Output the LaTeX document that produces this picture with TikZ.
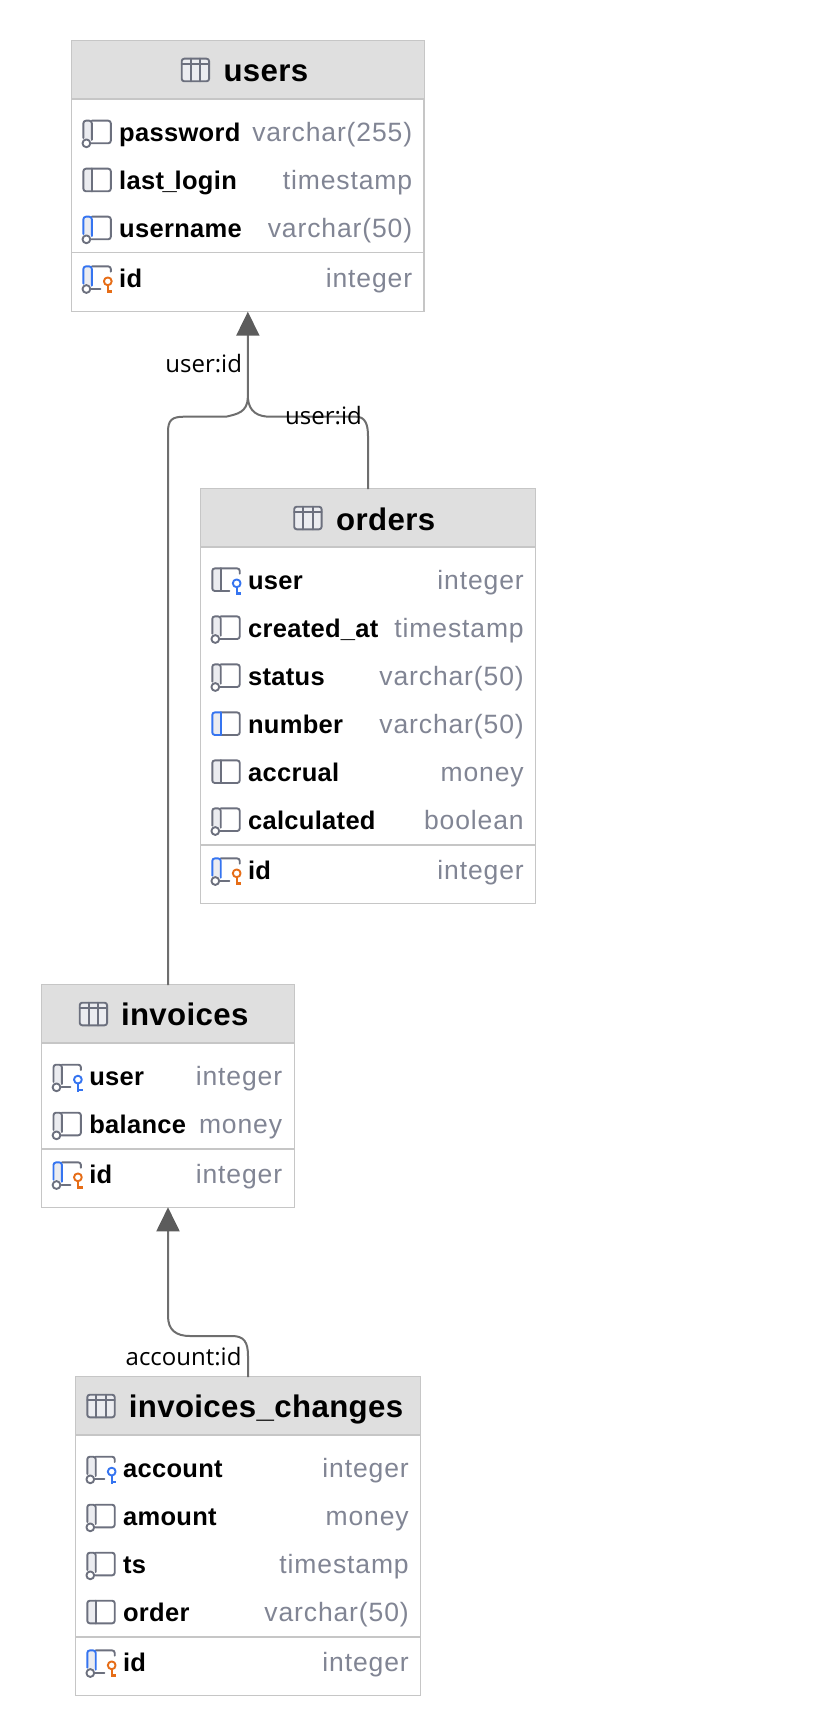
\documentclass[tikz,border=0pt]{standalone}
\usepackage{fontspec}
\usetikzlibrary{arrows.meta}
\setmainfont{Liberation Sans}
\newfontfamily\titlefont[LetterSpace=1.2]{Liberation Sans}
\newfontfamily\typefont[LetterSpace=3.3]{Liberation Sans}
\newfontfamily\linkfont{Open Sans}
\definecolor{headgray}{HTML}{DFDFDF}
\definecolor{rulegray}{HTML}{C6C6C6}
\definecolor{typegray}{HTML}{818594}
\definecolor{icongray}{HTML}{6C707E}
\definecolor{iconfill}{HTML}{EBECF0}
\definecolor{iconblue}{HTML}{3574F0}
\definecolor{iconorange}{HTML}{E66D17}
\definecolor{linkgray}{HTML}{6E6E6E}
\definecolor{tipgray}{HTML}{5C5C5C}
\tikzset{
  tablebox/.style={draw=rulegray, line width=1.2pt, fill=white, anchor=north west, inner sep=0pt, outer sep=0pt},
  headbox/.style={fill=headgray, anchor=north west, inner sep=0pt, outer sep=0pt},
  tablerule/.style={draw=rulegray, line width=1.6pt},
  tabletitle/.style={anchor=base west, inner sep=0pt, font=\titlefont\fontsize{31.2}{31}\selectfont\bfseries},
  colname/.style={anchor=base west, inner sep=0pt, font=\titlefont\fontsize{25.5}{26}\selectfont\bfseries},
  coltype/.style={anchor=base east, inner sep=0pt, text=typegray, font=\typefont\fontsize{26.5}{26}\selectfont},
  fklabel/.style={inner sep=0pt, font=\linkfont\fontsize{24}{24}\selectfont},
  fkedge/.style={draw=linkgray, line width=2pt},
  fktip/.style={-{Triangle[length=24pt,width=23pt,fill=tipgray,color=tipgray]}},
  iconline/.style={line width=1.9pt, line cap=round, line join=round}
}
% #1 stripe colour, #2 circle 0/1, #3 key 0/1/2
\newcommand{\colicon}[3]{
\ifnum#2=1 \fill[iconfill] (0,-11.3) rectangle (8.4,7); \else \fill[iconfill] (0,-11.3) rectangle (8.4,11.3); \fi
\ifnum#3=0
  \ifnum#2=1 \draw[iconline, icongray, rounded corners=2.5pt] (8.4,-11.3) -- (27.4,-11.3) -- (27.4,11.3) -- (8,11.3);
  \else \draw[iconline, icongray, rounded corners=2.5pt] (8.4,-11.3) -- (27.4,-11.3) -- (27.4,11.3) -- (8.4,11.3); \fi
\else
  \draw[iconline, icongray, rounded corners=2.5pt] (8.4,-11.3) -- (27.4,-11.3) -- (27.4,-6);
  \ifnum#2=1 \draw[iconline, icongray] (8,11.3) -- (17,11.3);
  \else \draw[iconline, icongray] (8.4,11.3) -- (17,11.3); \fi
\fi
\ifnum#2=1
  \draw[iconline, #1, rounded corners=2.5pt] (0,6) -- (0,-11.3) -- (8.4,-11.3) -- (8.4,8);
  \draw[iconline, icongray] (3,11.3) circle (3.9pt);
\else
  \draw[iconline, #1, rounded corners=2.5pt] (8.4,-11.3) -- (0,-11.3) -- (0,11.3) -- (8.4,11.3);
  \draw[iconline, #1] (8.4,-11.3) -- (8.4,11.3);
\fi
\ifnum#3=1 \colkey{iconblue} \fi
\ifnum#3=2 \colkey{iconorange} \fi
}
\newcommand{\colkey}[1]{
\draw[iconline, #1] (24.4,3.6) circle (3.9pt);
\draw[iconline, #1, line cap=butt] (24.4,7.4) -- (24.4,15.6);
\draw[#1, line width=2.8pt] (24.4,14) -- (29,14);
}
\newcommand{\tableicon}[2]{
\begin{scope}[shift={(#1,#2)}]
\draw[iconline, icongray, fill=iconfill, rounded corners=2.5pt] (0,-11.3) rectangle (27.4,11.3);
\draw[iconline, icongray] (0,-5.6) -- (27.4,-5.6) (9,-11.3) -- (9,11.3) (18.4,-11.3) -- (18.4,11.3);
\end{scope}
}
% name, icon x, icon y, box right, icon args, column, type
\newcommand{\colrow}[7]{
\begin{scope}[shift={(#2,#3)}] \colicon#5 \end{scope}
\draw (#2,#3)++(35.6,9.7) node[colname] (#1name) {#6};
\draw (#4,#3)++(0.6,9.7) node[coltype] (#1type) {#7};
}
\begin{document}
\begin{tikzpicture}[x=1pt, y=-1pt]
\useasboundingbox (0,0) rectangle (818,1736);

% users
\draw (71.7,41) node[tablebox, minimum width=352.3pt, minimum height=270.7pt] (users) {};
\draw (71.7,41) node[headbox, minimum width=352.3pt, minimum height=58pt] (usershead) {};
\draw[tablerule] (usershead.south west) -- (usershead.south east);
\tableicon{181.7}{70}
\draw (223.3,81.7) node[tabletitle] (userstitle) {users};
\colrow{upassword}{83.4}{132}{411.7}{{icongray}{1}{0}}{password}{varchar(255)}
\colrow{ulastlogin}{83.4}{180}{411.7}{{icongray}{0}{0}}{last\kern-1.5pt\_\kern-2pt login}{timestamp}
\colrow{uusername}{83.4}{228}{411.7}{{iconblue}{1}{0}}{username}{varchar(50)}
\draw[tablerule] (users.west |- 0,252.7) -- (users.east |- 0,252.7);
\colrow{uid}{83.4}{277.7}{411.7}{{iconblue}{1}{2}}{id}{integer}

% orders
\draw (200.7,489) node[tablebox, minimum width=334.6pt, minimum height=414.3pt] (orders) {};
\draw (200.7,489) node[headbox, minimum width=334.6pt, minimum height=57.7pt] (ordershead) {};
\draw[tablerule] (ordershead.south west) -- (ordershead.south east);
\tableicon{294.2}{518}
\draw (336,530) node[tabletitle] (orderstitle) {orders};
\colrow{ouser}{212.3}{579.7}{523.3}{{icongray}{0}{1}}{user}{integer}
\colrow{ocreated}{212.3}{627.7}{523.3}{{icongray}{1}{0}}{created\_at}{timestamp}
\colrow{ostatus}{212.3}{675.7}{523.3}{{icongray}{1}{0}}{status}{varchar(50)}
\colrow{onumber}{212.3}{723.7}{523.3}{{iconblue}{0}{0}}{number}{varchar(50)}
\colrow{oaccrual}{212.3}{771.7}{523.3}{{icongray}{0}{0}}{accrual}{money}
\colrow{ocalculated}{212.3}{819.7}{523.3}{{icongray}{1}{0}}{calculated}{boolean}
\draw[tablerule] (orders.west |- 0,845) -- (orders.east |- 0,845);
\colrow{oid}{212.3}{869.7}{523.3}{{iconblue}{1}{2}}{id}{integer}

% invoices
\draw (41.7,985) node[tablebox, minimum width=252.6pt, minimum height=222.3pt] (invoices) {};
\draw (41.7,985) node[headbox, minimum width=252.6pt, minimum height=58pt] (invoiceshead) {};
\draw[tablerule] (invoiceshead.south west) -- (invoiceshead.south east);
\tableicon{79.7}{1014}
\draw (120.8,1025.5) node[tabletitle] (invoicestitle) {invoices};
\colrow{iuser}{53.5}{1076}{281.7}{{icongray}{1}{1}}{user}{integer}
\colrow{ibalance}{53.5}{1124}{281.7}{{icongray}{1}{0}}{balance}{money}
\draw[tablerule] (invoices.west |- 0,1148.7) -- (invoices.east |- 0,1148.7);
\colrow{iid}{53.5}{1173.7}{281.7}{{iconblue}{1}{2}}{id}{integer}

% invoices_changes
\draw (75.7,1377) node[tablebox, minimum width=344.6pt, minimum height=318.3pt] (changes) {};
\draw (75.7,1377) node[headbox, minimum width=344.6pt, minimum height=58pt] (changeshead) {};
\draw[tablerule] (changeshead.south west) -- (changeshead.south east);
\tableicon{87.3}{1406}
\draw (128.6,1417.5) node[tabletitle] (changestitle) {invoices\_changes};
\colrow{caccount}{87.3}{1468}{408.3}{{icongray}{1}{1}}{account}{integer}
\colrow{camount}{87.3}{1516}{408.3}{{icongray}{1}{0}}{amount}{money}
\colrow{cts}{87.3}{1564}{408.3}{{icongray}{1}{0}}{ts}{timestamp}
\colrow{corder}{87.3}{1612}{408.3}{{icongray}{0}{0}}{order}{varchar(50)}
\draw[tablerule] (changes.west |- 0,1636.7) -- (changes.east |- 0,1636.7);
\colrow{cid}{87.3}{1661.7}{408.3}{{iconblue}{1}{2}}{id}{integer}

% links
\draw[fkedge] (invoices.north) -- (168,432) .. controls (168,420) and (172,416.7) .. (184,416.7) -- (226,416.7) .. controls (238,414) and (247,412) .. (247.85,398);
\draw[fkedge] (orders.north) -- (368,436) .. controls (368,424) and (365,416.7) .. (356,416.7) -- (270,416.7) .. controls (258,416.7) and (249,412) .. (247.85,398);
\draw[fkedge, fktip] (247.85,398) -- (users.south);
\draw[fkedge, fktip] (changes.north) -- (248,1356) .. controls (248,1342) and (244,1336) .. (232,1336) -- (190,1336) .. controls (176,1336) and (168,1330) .. (168,1316) -- (invoices.south);
\draw (242.2,372.3) node[fklabel, anchor=base east] (uidlabelleft) {user:id};
\draw (285,424.3) node[fklabel, anchor=base west] (uidlabelright) {user:id};
\draw (241.7,1365) node[fklabel, anchor=base east] (aidlabel) {account:id};
\end{tikzpicture}
\end{document}
